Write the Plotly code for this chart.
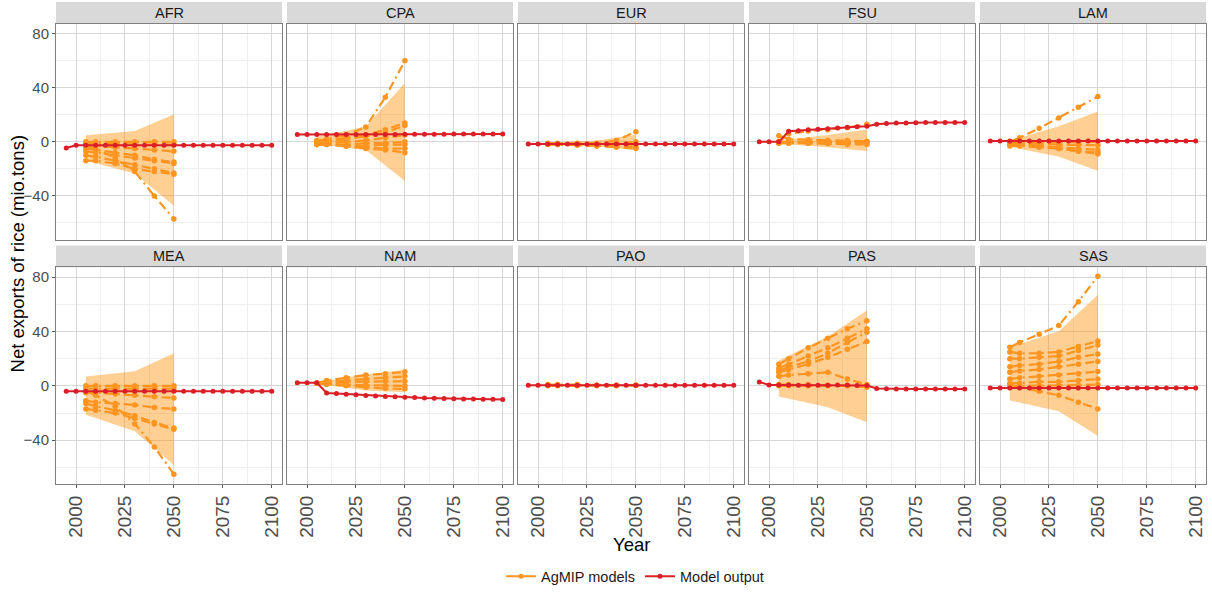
import plotly.graph_objects as go

# ---------------- data ----------------
regions = ["AFR", "CPA", "EUR", "FSU", "LAM", "MEA", "NAM", "PAO", "PAS", "SAS"]

model_years = [1995, 2000, 2005, 2010, 2015, 2020, 2025, 2030, 2035, 2040, 2045,
               2050, 2055, 2060, 2065, 2070, 2075, 2080, 2085, 2090, 2095, 2100]
agmip_years = [2005, 2010, 2020, 2030, 2040, 2050]
ribbon_years = [2005, 2030, 2050]

# Model output (red) per region
AFR_model = [-4.6, -2.5, -2.5, -2.5, -2.5, -2.5, -2.5, -2.5, -2.5, -2.5, -2.5,
             -2.5, -2.5, -2.5, -2.5, -2.5, -2.5, -2.5, -2.5, -2.5, -2.5, -2.5]
CPA_model = [5.5, 5.5, 5.5, 5.5, 5.5, 5.5, 5.5, 5.5, 5.5, 5.5, 5.5,
             5.6, 5.6, 5.6, 5.6, 5.6, 5.7, 5.7, 5.7, 5.8, 5.8, 5.8]
EUR_model = [-1.6, -1.6, -1.6, -1.6, -1.6, -1.6, -1.6, -1.6, -1.6, -1.6, -1.6,
             -1.6, -1.6, -1.6, -1.6, -1.6, -1.6, -1.6, -1.6, -1.6, -1.6, -1.6]
FSU_model = [0.0, 0.0, 0.0, 7.8, 8.2, 9.0, 9.3, 9.7, 10.2, 10.7, 11.1,
             11.6, 13.0, 13.6, 13.9, 14.0, 14.2, 14.3, 14.3, 14.3, 14.3, 14.3]
LAM_model = [0.7, 0.7, 0.7, 0.7, 0.7, 0.7, 0.7, 0.7, 0.7, 0.7, 0.7,
             0.7, 0.7, 0.7, 0.7, 0.7, 0.7, 0.7, 0.7, 0.7, 0.7, 0.7]
MEA_model = [-3.9, -3.9, -3.9, -3.9, -3.9, -3.9, -3.9, -3.9, -3.9, -3.9, -3.9,
             -3.9, -3.9, -3.9, -3.9, -3.9, -3.9, -3.9, -3.9, -3.9, -3.9, -3.9]
NAM_model = [2.2, 2.2, 2.2, -5.2, -5.6, -6.1, -6.6, -7.1, -7.5, -7.9, -8.1,
             -8.3, -8.6, -8.9, -9.1, -9.3, -9.5, -9.6, -9.7, -9.8, -9.9, -10.0]
PAO_model = [0.5, 0.5, 0.5, 0.5, 0.5, 0.5, 0.5, 0.5, 0.5, 0.5, 0.5,
             0.5, 0.5, 0.5, 0.5, 0.5, 0.5, 0.5, 0.5, 0.5, 0.5, 0.5]
PAS_model = [2.9, 0.7, 0.6, 0.6, 0.5, 0.5, 0.5, 0.5, 0.6, 0.6, 0.3,
             0.2, -2.0, -2.2, -2.3, -2.3, -2.4, -2.4, -2.4, -2.4, -2.4, -2.4]
SAS_model = [-1.5, -1.5, -1.5, -1.5, -1.5, -1.5, -1.5, -1.5, -1.5, -1.5, -1.5,
             -1.5, -1.5, -1.5, -1.5, -1.5, -1.5, -1.5, -1.5, -1.5, -1.5, -1.5]

# AgMIP models (orange) per region, values at agmip_years
AFR_agmip = [[0, 0, 0, 0, 0, 0], [-1, -1, -1.5, -2, -2, -2], [-2, -3, -4, -5, -6, -7],
             [-7, -8, -10, -12, -14, -16], [-10, -11, -14, -17, -20, -23],
             [-14, -14, -16, -20, -22, -24], [-3, -5, -12, -22, -40, -57],
             [-5, -6, -8, -10, -13, -15]]
CPA_agmip = [[1, 2, 5, 11, 33, 60], [0, 1, 3, 5, 9, 14], [-1, 0, 2, 4, 7, 12],
             [-1, -1, 0, 1, 3, 5], [-2, -2, -2, -1, -1, 0], [-2, -2, -3, -3, -2, -2],
             [-1, -2, -3, -4, -5, -5], [0, -1, -3, -5, -6, -8]]
EUR_agmip = [[-1.5, -1.5, -1.5, -1, 1, 7.5], [-1.5, -1.5, -2, -2, -1, 0],
             [-2, -2, -2.5, -3, -3, -4], [-1, -1, -1, -1.5, -2, -2],
             [-1.5, -2, -2, -3, -4, -5]]
FSU_agmip = [[0, 6, 8, 9, 10.5, 13], [4.5, 2, 1.5, 1, 1, 0.5], [0, 0, 0, 0, 0, 0],
             [-1, -1, -1, -1, -1, -1], [0, -0.5, -1, -1.5, -2, -2], [-1, -1, -0.5, 0, 0, 0]]
LAM_agmip = [[0, 3, 10, 17.7, 25.5, 33.5], [0, 0, 0, 0, 0, 0], [-1, -1, -1.5, -2, -2, -2.5],
             [-2, -2, -3, -4, -5, -6], [-3, -3, -4, -5, -7, -8], [-1, -2, -3, -5, -7, -9]]
MEA_agmip = [[0, 0, 0, 0, 0, 0], [-2, -2, -2, -2, -2, -2], [-5, -5, -6, -7, -8, -9],
             [-11, -12, -13, -14, -16, -17], [-13, -15, -18, -22, -27, -31],
             [-17, -18, -20, -24, -28, -32], [-4, -7, -15, -28, -45, -65]]
NAM_agmip = [[2, 4, 6, 8, 9, 10.3], [2, 3, 4, 5, 6, 7], [2, 2, 3, 3, 3.5, 3.4],
             [2, 1.5, 1, 0.5, 0, 0], [2, 1, 0, -1, -2, -2.2]]
PAO_agmip = [[0.5, 0.5, 0.5, 0.5, 0.5, 0.5], [0, 0, 0, 0, 0, 0.5], [1, 1, 1, 0.5, 0.5, 0.5]]
PAS_agmip = [[16, 20, 28, 35, 42, 48], [13, 16, 22, 28, 35, 42], [11, 14, 18, 24, 32, 39.5],
             [10, 12, 16, 21, 27, 32.6], [7, 8, 9, 10, 5, 1], [0, 0, 0, 0, 0, 0],
             [1, 1, 1, 0.5, 0, -1]]
SAS_agmip = [[28.5, 32, 38, 44.4, 62, 80.7], [25, 24, 24, 25, 29, 33], [20, 20, 21, 22, 26, 30],
             [14, 15, 16, 18, 21, 23.5], [10, 11, 12, 14, 16, 18], [5, 6, 7, 8, 9, 10.5],
             [2, 2, 3, 3, 4, 5], [0, 0, 0, 0, 0.5, 1], [1, -1, -4, -7, -12, -17]]

# AgMIP ribbon (low / high) at ribbon_years
AFR_lo, AFR_hi = [-14, -23.5, -47.3], [4.8, 8, 20.4]
CPA_lo, CPA_hi = [-1.7, -6, -29], [3.6, 11.4, 43.6]
EUR_lo, EUR_hi = [-2.5, -3.5, -6], [-0.5, 1, 5.3]
FSU_lo, FSU_hi = [-1.5, -4, -6.8], [1, 5, 9.2]
LAM_lo, LAM_hi = [-3.6, -11, -21.3], [1, 11.6, 22.5]
MEA_lo, MEA_hi = [-21.3, -33.4, -58.2], [6.9, 10.8, 24]
NAM_lo, NAM_hi = [1.8, -3.4, -4.7], [2.4, 8.3, 11.8]
PAO_lo, PAO_hi = [-0.3, -0.3, -0.3], [1.2, 1.2, 1.2]
PAS_lo, PAS_hi = [-7.9, -15.7, -26.7], [18.6, 36.3, 55.5]
SAS_lo, SAS_hi = [-10.8, -18.6, -37], [28.5, 40.2, 67]

x_ticks = [2000, 2025, 2050, 2075, 2100]
y_ticks = [-40, 0, 40, 80]

model_by_region = {"AFR": AFR_model, "CPA": CPA_model, "EUR": EUR_model, "FSU": FSU_model,
                   "LAM": LAM_model, "MEA": MEA_model, "NAM": NAM_model, "PAO": PAO_model,
                   "PAS": PAS_model, "SAS": SAS_model}
agmip_by_region = {"AFR": AFR_agmip, "CPA": CPA_agmip, "EUR": EUR_agmip, "FSU": FSU_agmip,
                   "LAM": LAM_agmip, "MEA": MEA_agmip, "NAM": NAM_agmip, "PAO": PAO_agmip,
                   "PAS": PAS_agmip, "SAS": SAS_agmip}
ribbon_by_region = {"AFR": (AFR_lo, AFR_hi), "CPA": (CPA_lo, CPA_hi), "EUR": (EUR_lo, EUR_hi),
                    "FSU": (FSU_lo, FSU_hi), "LAM": (LAM_lo, LAM_hi), "MEA": (MEA_lo, MEA_hi),
                    "NAM": (NAM_lo, NAM_hi), "PAO": (PAO_lo, PAO_hi), "PAS": (PAS_lo, PAS_hi),
                    "SAS": (SAS_lo, SAS_hi)}

# ---------------- styling ----------------
ORANGE = "#ff9520"
RIBBON = "rgba(255,140,0,0.42)"
RED = "#dc1f26"
FONT = "Liberation Sans, Arial, sans-serif"

W, H = 1212, 595
ML, MR, MT, MB = 56, 6, 2, 108
PW = W - ML - MR
PH = H - MT - MB

col_px = [(0, 226), (231, 457), (462, 688), (693, 919), (924, 1150)]
# rows in pixel (y from top of figure): (strip_top, panel_top, panel_bottom)
row_px = [(2, 24, 241), (247, 269, 487)]


def py(y):
    return (H - MB - y) / PH


def px(x):
    return (x - ML) / PW


fig = go.Figure()
layout = dict(
    width=W, height=H,
    margin=dict(l=ML, r=MR, t=MT, b=MB),
    plot_bgcolor="white", paper_bgcolor="white",
    font=dict(family=FONT, color="#1a1a1a"),
    showlegend=True,
)
shapes = []
annotations = []

for i, reg in enumerate(regions):
    r, c = divmod(i, 5)
    ax = i + 1
    xname = "x" if ax == 1 else f"x{ax}"
    yname = "y" if ax == 1 else f"y{ax}"
    x0, x1 = col_px[c][0] / PW, col_px[c][1] / PW
    st, pt, pb = row_px[r]
    layout[f"xaxis{ax}"] = dict(
        domain=[x0, x1], anchor=yname, range=[1989.75, 2105.25],
        tickmode="array", tickvals=x_ticks, showticklabels=(r == 1),
        ticks="outside" if r == 1 else "", ticklen=3, tickcolor="#555555",
        tickangle=-90, tickfont=dict(size=19, color="#4d4d4d", family=FONT),
        showgrid=True, gridcolor="#d6d6d6", gridwidth=1,
        minor=dict(tickvals=[2012.5, 2037.5, 2062.5, 2087.5], showgrid=True,
                   gridcolor="#eeeeee", gridwidth=0.6, ticks=""),
        showline=True, mirror=True, linecolor="#808080", linewidth=1,
        zeroline=False, automargin=False, fixedrange=True,
    )
    layout[f"yaxis{ax}"] = dict(
        domain=[py(pb), py(pt)], anchor=xname, range=[-72.25, 87.25],
        tickmode="array", tickvals=y_ticks, showticklabels=(c == 0),
        ticks="outside" if c == 0 else "", ticklen=3, tickcolor="#555555",
        tickfont=dict(size=15, color="#4d4d4d", family=FONT),
        showgrid=True, gridcolor="#d6d6d6", gridwidth=1,
        minor=dict(tickvals=[-60, -20, 20, 60], showgrid=True,
                   gridcolor="#eeeeee", gridwidth=0.6, ticks=""),
        showline=True, mirror=True, linecolor="#808080", linewidth=1,
        zeroline=False, automargin=False, fixedrange=True,
    )
    # strip
    shapes.append(dict(type="rect", xref="paper", yref="paper",
                       x0=x0, x1=x1, y0=py(pt), y1=py(st),
                       fillcolor="#d9d9d9", line=dict(width=0), layer="below"))
    annotations.append(dict(text=reg, xref="paper", yref="paper",
                            x=(x0 + x1) / 2, y=(py(pt) + py(st)) / 2,
                            xanchor="center", yanchor="middle", showarrow=False,
                            font=dict(size=14.5, color="#1a1a1a", family=FONT)))

    lo, hi = ribbon_by_region[reg]
    fig.add_trace(go.Scatter(
        x=ribbon_years + ribbon_years[::-1], y=hi + lo[::-1],
        fill="toself", fillcolor=RIBBON, line=dict(width=0), mode="lines",
        hoverinfo="skip", showlegend=False, xaxis=xname, yaxis=yname))
    for series in agmip_by_region[reg]:
        fig.add_trace(go.Scatter(
            x=agmip_years, y=series, mode="lines+markers",
            line=dict(color=ORANGE, width=2.2, dash="9px,4px,2px,4px"),
            marker=dict(color=ORANGE, size=5.5),
            showlegend=False, legendgroup="agmip", name="AgMIP models",
            xaxis=xname, yaxis=yname))
    fig.add_trace(go.Scatter(
        x=model_years, y=model_by_region[reg], mode="lines+markers",
        line=dict(color=RED, width=2), marker=dict(color=RED, size=5),
        showlegend=False, legendgroup="model", name="Model output",
        xaxis=xname, yaxis=yname))

# legend entries
fig.add_trace(go.Scatter(x=[None], y=[None], mode="lines+markers", name="AgMIP models",
                         line=dict(color=ORANGE, width=2), marker=dict(color=ORANGE, size=5),
                         legendgroup="agmip", showlegend=True))
fig.add_trace(go.Scatter(x=[None], y=[None], mode="lines+markers", name="Model output",
                         line=dict(color=RED, width=2), marker=dict(color=RED, size=5),
                         legendgroup="model", showlegend=True))

annotations.append(dict(text="Year", xref="paper", yref="paper", x=0.5, y=py(548),
                        xanchor="center", yanchor="middle", showarrow=False,
                        font=dict(size=18.5, color="black", family=FONT)))
annotations.append(dict(text="Net exports of rice (mio.tons)", xref="paper", yref="paper",
                        x=px(17), y=py(255), xanchor="center", yanchor="middle",
                        textangle=-90, showarrow=False,
                        font=dict(size=18.5, color="black", family=FONT)))

layout["legend"] = dict(orientation="h", x=px(635), xanchor="center", y=py(580), yanchor="middle",
                        font=dict(size=14.5, color="#1a1a1a", family=FONT),
                        itemwidth=30, tracegroupgap=0, bgcolor="rgba(0,0,0,0)")
layout["shapes"] = shapes
layout["annotations"] = annotations
fig.update_layout(**layout)

fig.write_html("out.html", config={"displayModeBar": False},
               post_script="document.body.style.margin='0';")
